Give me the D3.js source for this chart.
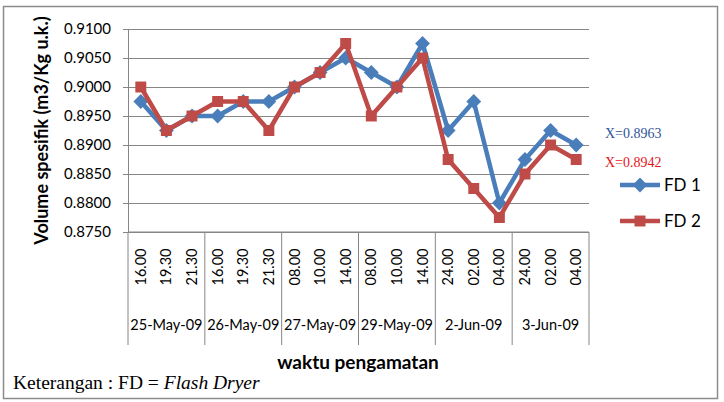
<!DOCTYPE html>
<html>
<head>
<meta charset="utf-8">
<script src="https://cdn.jsdelivr.net/npm/d3@7"></script>
<style>
  body { margin: 0; background: #fff; }
  svg { display: block; }
</style>
</head>
<body>
<div id="chart"></div>
<script>
// data
var times = ["16.00","19.30","21.30","16.00","19.30","21.30","08.00","10.00","14.00",
             "08.00","10.00","14.00","24.00","02.00","04.00","24.00","02.00","04.00"];
var dates = ["25-May-09","26-May-09","27-May-09","29-May-09","2-Jun-09","3-Jun-09"];
var fd1 = [0.8975,0.8925,0.8950,0.8950,0.8975,0.8975,0.9000,0.9025,0.9050,
           0.9025,0.9000,0.9075,0.8925,0.8975,0.8800,0.8875,0.8925,0.8900];
var fd2 = [0.9000,0.8925,0.8950,0.8975,0.8975,0.8925,0.9000,0.9025,0.9075,
           0.8950,0.9000,0.9050,0.8875,0.8825,0.8775,0.8850,0.8900,0.8875];
var yTicks = [0.8750,0.8800,0.8850,0.8900,0.8950,0.9000,0.9050,0.9100];
var seriesNames = ["FD 1","FD 2"];
var means = ["X=0.8963","X=0.8942"];

var svgWidth = 724, svgHeight = 402;
var plot = {left: 128, right: 589, top: 29, bottom: 232};
var blue = "#4A7EBB", red = "#BE4B48", grid = "#868686";
var sans = "Lato, 'Open Sans', sans-serif";

var svg = d3.select("#chart").append("svg")
    .attr("width", svgWidth)
    .attr("height", svgHeight);

// outer frame
svg.append("rect")
    .attr("x", 3.5).attr("y", 6.5)
    .attr("width", 714).attr("height", 392)
    .attr("fill", "none").attr("stroke", "#8c8c8c").attr("stroke-width", 1.5);

var x = d3.scaleBand()
    .domain(d3.range(times.length))
    .range([plot.left, plot.right]);
var y = d3.scaleLinear()
    .domain([0.875, 0.910])
    .range([plot.bottom, plot.top]);

// gridlines + y axis
var yAxis = svg.append("g")
    .attr("transform", "translate(" + plot.left + ",0)")
    .call(d3.axisLeft(y).tickValues(yTicks).tickFormat(d3.format(".4f"))
        .tickSizeInner(-(plot.right - plot.left)).tickSizeOuter(0).tickPadding(17));
yAxis.selectAll(".tick line").attr("stroke", grid).attr("x1", -5);
yAxis.select(".domain").attr("stroke", grid);
yAxis.selectAll("text")
    .attr("font-family", sans).attr("font-size", 15).attr("fill", "#000");

// x axis (two levels)
var xg = svg.append("g");
xg.append("line")
    .attr("x1", plot.left).attr("x2", plot.right)
    .attr("y1", plot.bottom).attr("y2", plot.bottom)
    .attr("stroke", grid);
var bounds = d3.range(0, times.length + 1, 3);
xg.selectAll(".sep")
    .data(bounds)
    .enter().append("line")
    .attr("x1", d => d < times.length ? x(d) : plot.right)
    .attr("x2", d => d < times.length ? x(d) : plot.right)
    .attr("y1", plot.bottom).attr("y2", 345)
    .attr("stroke", grid);
xg.selectAll(".time")
    .data(times)
    .enter().append("text")
    .attr("transform", (d, i) => "translate(" + (x(i) + x.bandwidth() / 2) + ",267) rotate(-90)")
    .attr("text-anchor", "middle")
    .attr("dy", "0.35em")
    .attr("font-family", sans).attr("font-size", 14.5)
    .text(d => d);
xg.selectAll(".date")
    .data(dates)
    .enter().append("text")
    .attr("x", (d, i) => x(i * 3) + x.bandwidth() * 1.5)
    .attr("y", 325)
    .attr("dy", "0.35em")
    .attr("text-anchor", "middle")
    .attr("font-family", sans).attr("font-size", 14.5)
    .text(d => d);

// axis titles
svg.append("text")
    .attr("transform", "translate(42," + ((plot.top + plot.bottom) / 2) + ") rotate(-90)")
    .attr("text-anchor", "middle")
    .attr("dy", "0.35em")
    .attr("font-family", sans).attr("font-weight", "bold").attr("font-size", 18)
    .text("Volume spesifik (m3/Kg u.k.)");
svg.append("text")
    .attr("x", 358).attr("y", 362)
    .attr("dy", "0.35em")
    .attr("text-anchor", "middle")
    .attr("font-family", sans).attr("font-weight", "bold").attr("font-size", 19)
    .text("waktu pengamatan");

// series
var line = d3.line()
    .x((d, i) => x(i) + x.bandwidth() / 2)
    .y(d => y(d));
var diamond = d3.symbol().type(d3.symbolSquare).size(110);
var square = d3.symbol().type(d3.symbolSquare).size(120);

function drawSeries(data, color, isDiamond) {
    var g = svg.append("g");
    g.append("path")
        .datum(data)
        .attr("d", line)
        .attr("fill", "none")
        .attr("stroke", color)
        .attr("stroke-width", 4.5)
        .attr("stroke-linejoin", "round");
    g.selectAll("path.m")
        .data(data)
        .enter().append("path")
        .attr("class", "m")
        .attr("d", isDiamond ? diamond : square)
        .attr("transform", (d, i) => "translate(" + (x(i) + x.bandwidth() / 2) + "," + y(d) + ")" + (isDiamond ? " rotate(45)" : ""))
        .attr("fill", color);
}
drawSeries(fd1, blue, true);
drawSeries(fd2, red, false);

// mean annotations
svg.append("text")
    .attr("x", 605).attr("y", 133).attr("dy", "0.35em")
    .attr("font-family", "'Liberation Serif', serif").attr("font-size", 14)
    .attr("fill", "#2F5597")
    .text(means[0]);
svg.append("text")
    .attr("x", 605).attr("y", 162).attr("dy", "0.35em")
    .attr("font-family", "'Liberation Serif', serif").attr("font-size", 14)
    .attr("fill", "#E8141B")
    .text(means[1]);

// legend
var legend = svg.append("g");
var legendY = [185, 221];
seriesNames.forEach(function(name, i) {
    var c = i === 0 ? blue : red;
    legend.append("line")
        .attr("x1", 620).attr("x2", 660)
        .attr("y1", legendY[i]).attr("y2", legendY[i])
        .attr("stroke", c).attr("stroke-width", 4.5);
    legend.append("path")
        .attr("d", i === 0 ? diamond : square)
        .attr("transform", "translate(640," + legendY[i] + ")" + (i === 0 ? " rotate(45)" : ""))
        .attr("fill", c);
    legend.append("text")
        .attr("x", 664).attr("y", legendY[i]).attr("dy", "0.35em")
        .attr("font-family", sans).attr("font-size", 17)
        .text(name);
});

// note
var note = svg.append("text")
    .attr("x", 13).attr("y", 389)
    .attr("font-family", "'Liberation Serif', serif").attr("font-size", 19.5);
note.append("tspan").text("Keterangan : FD = ");
note.append("tspan").attr("font-style", "italic").text("Flash Dryer");
</script>
</body>
</html>
